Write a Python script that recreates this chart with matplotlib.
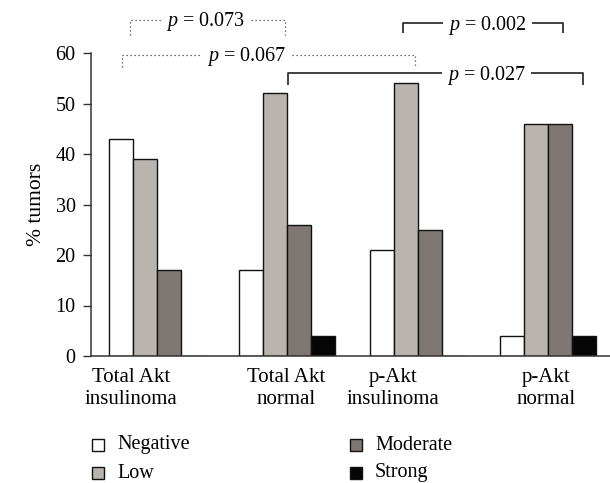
import matplotlib
matplotlib.use("Agg")
import matplotlib.pyplot as plt
from matplotlib.patches import Rectangle
import numpy as np

plt.rcParams['font.family'] = ['Liberation Serif', 'DejaVu Serif']
plt.rcParams['mathtext.fontset'] = 'custom'
plt.rcParams['mathtext.rm'] = 'Liberation Serif'
plt.rcParams['mathtext.it'] = 'Liberation Serif:italic'

categories = ["Total Akt\ninsulinoma", "Total Akt\nnormal", "p-Akt\ninsulinoma", "p-Akt\nnormal"]
series_names = ["Negative", "Low", "Moderate", "Strong"]
negative = [43, 17, 21, 4]
low = [39, 52, 54, 46]
moderate = [17, 26, 25, 46]
strong = [0, 4, 0, 4]
series_values = [negative, low, moderate, strong]
colors = ["#ffffff", "#b9b4af", "#7f7773", "#050505"]
yticks = [0, 10, 20, 30, 40, 50, 60]

# p-value brackets: (x_left, x_right, y_line, y_drop, label, text_x, style)
brackets = [
    (-0.207, 0.982, 66.5, 63.6, "0.073", 0.376, 'dotted'),
    (-0.269, 1.980, 59.6, 57.2, "0.067", 0.69, 'dotted'),
    (1.888, 3.116, 65.9, 64.0, "0.002", 2.54, 'solid'),
    (1.005, 3.270, 56.0, 53.7, "0.027", 2.53, 'solid'),
]

fig = plt.figure(figsize=(6.10, 4.83), dpi=100)
ax = fig.add_axes([91/610, 1-356/483, 1-91/610, (356-53)/483])

x = np.arange(len(categories))
w = 0.184
offsets = (np.arange(4) - 1.5) * w
for vals, off, c in zip(series_values, offsets, colors):
    ax.bar(x + off, vals, width=w, color=c, edgecolor='#111111', linewidth=1.0,
           align='center', zorder=2)

ax.set_xlim(-0.507, 3.477)
ax.set_ylim(0, 60)
ax.set_yticks(yticks)
ax.tick_params(axis='y', length=6, width=1.0, color='#333333', labelsize=14.5, pad=5)
ax.tick_params(axis='x', length=0)
ax.set_xticks([])
for s in ['top', 'right']:
    ax.spines[s].set_visible(False)
ax.spines['left'].set_color('#333333')
ax.spines['bottom'].set_color('#333333')
ax.spines['left'].set_linewidth(1.1)
ax.spines['bottom'].set_linewidth(1.1)
ax.set_ylabel("% tumors", fontsize=15.5, labelpad=7)

label_x = [-0.20, 0.99, 1.81, 2.99]
for lx, lab in zip(label_x, categories):
    ax.text(lx, -2.3, lab, ha='center', va='top', fontsize=15, linespacing=1.22,
            clip_on=False)

fig.canvas.draw()
renderer = fig.canvas.get_renderer()
inv = ax.transData.inverted()
for (x1, x2, yl, yd, lab, tx, style) in brackets:
    t = ax.text(tx, yl - 1.25, r"$p$ = " + lab, ha='center', va='baseline', fontsize=14.5,
                clip_on=False)
    bb = t.get_window_extent(renderer)
    left_px = bb.x0 - 5
    right_px = bb.x1 + 5
    lx_d = inv.transform((left_px, 0))[0]
    rx_d = inv.transform((right_px, 0))[0]
    if style == 'dotted':
        kw = dict(color='#444444', linestyle=(0, (1, 2.2)), linewidth=0.9)
    else:
        kw = dict(color='#222222', linestyle='-', linewidth=1.2)
    ax.plot([x1, x1, lx_d], [yd, yl, yl], clip_on=False, solid_capstyle='butt', **kw)
    ax.plot([rx_d, x2, x2], [yl, yl, yd], clip_on=False, solid_capstyle='butt', **kw)

# legend
leg_pos = [(92, 445), (92, 473), (350, 445), (350, 473)]
sq = 12
for (px, py), name, c in zip(leg_pos, series_names, colors):
    fig.add_artist(Rectangle((px/610, 1-(py+sq/2)/483), sq/610, sq/483,
                             transform=fig.transFigure, facecolor=c,
                             edgecolor='#111111', linewidth=1.0))
    fig.text((px+25)/610, 1-py/483, name, ha='left', va='center', fontsize=14.5)

fig.savefig("out.png", dpi=100)
